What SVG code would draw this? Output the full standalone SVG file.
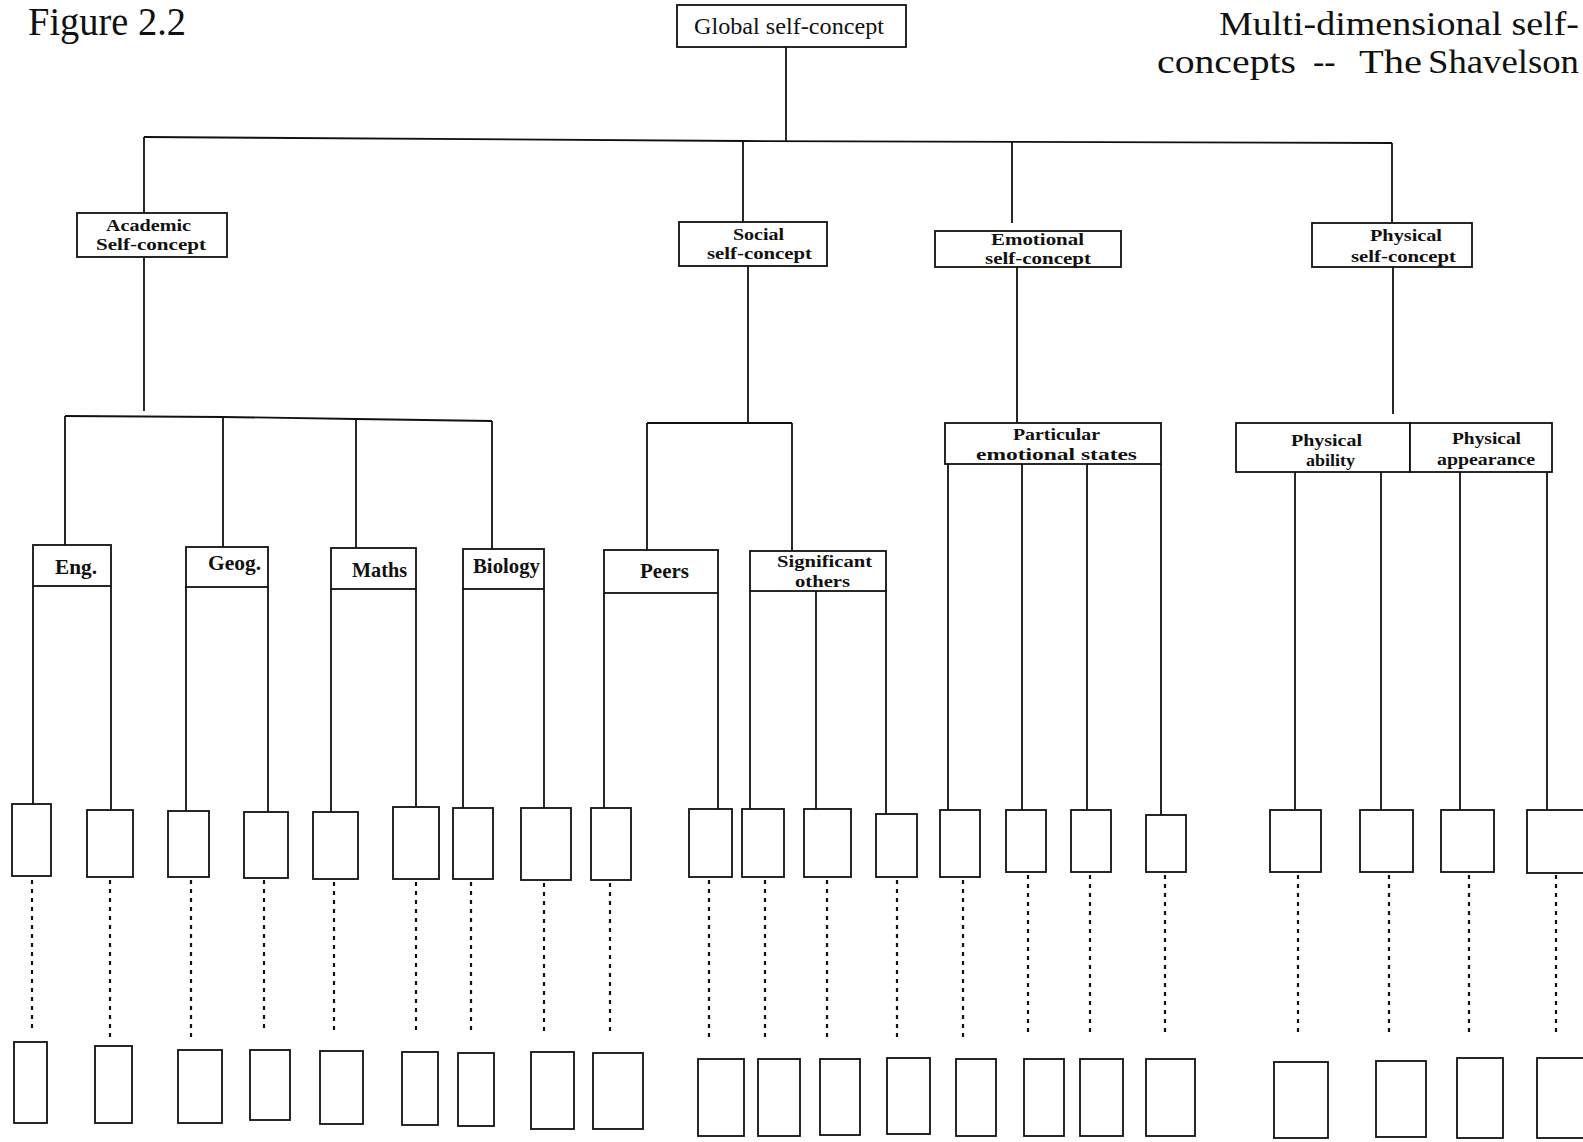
<svg xmlns="http://www.w3.org/2000/svg" width="1583" height="1142" viewBox="0 0 1583 1142">
<style>
.bx{fill:#fff;stroke:#111;stroke-width:1.8}
.ln{fill:none;stroke:#111;stroke-width:1.8}
.dt{fill:none;stroke:#111;stroke-width:2.2;stroke-dasharray:4 5}
.t{font-family:"Liberation Serif","Times New Roman",serif;fill:#111}
.lb{font-family:"Liberation Serif","Times New Roman",serif;font-weight:bold;fill:#111;font-size:17px}
.hd{font-family:"Liberation Serif","Times New Roman",serif;font-weight:bold;fill:#111;font-size:22px}
</style>
<rect width="1583" height="1142" fill="#fff"/>
<text class="t" x="28" y="35" font-size="40" textLength="158" lengthAdjust="spacingAndGlyphs">Figure 2.2</text>
<text class="t" x="1219" y="35" font-size="34" textLength="360" lengthAdjust="spacingAndGlyphs">Multi-dimensional self-</text>
<text class="t" y="73" font-size="34"><tspan x="1157" textLength="139" lengthAdjust="spacingAndGlyphs">concepts</tspan><tspan x="1313">--</tspan><tspan x="1359" textLength="63" lengthAdjust="spacingAndGlyphs">The</tspan><tspan x="1428" textLength="151" lengthAdjust="spacingAndGlyphs">Shavelson</tspan></text>

<g id="connectors">
<line class="ln" x1="786" y1="47" x2="786" y2="141"/>
<polyline class="ln" points="144,137 743,141 1392,143"/>
<line class="ln" x1="144" y1="137" x2="144" y2="213"/>
<line class="ln" x1="743" y1="141" x2="743" y2="222"/>
<line class="ln" x1="1012" y1="142" x2="1012" y2="223"/>
<line class="ln" x1="1392" y1="143" x2="1392" y2="223"/>
<line class="ln" x1="144" y1="257" x2="144" y2="411"/>
<polyline class="ln" points="65,416 223,417 356,419 492,421"/>
<line class="ln" x1="65" y1="416" x2="65" y2="545"/>
<line class="ln" x1="223" y1="417" x2="223" y2="547"/>
<line class="ln" x1="356" y1="419" x2="356" y2="548"/>
<line class="ln" x1="492" y1="421" x2="492" y2="549"/>
<line class="ln" x1="748" y1="266" x2="748" y2="423"/>
<line class="ln" x1="647" y1="423" x2="792" y2="423"/>
<line class="ln" x1="647" y1="423" x2="647" y2="550"/>
<line class="ln" x1="792" y1="423" x2="792" y2="551"/>
<line class="ln" x1="1017" y1="267" x2="1017" y2="423"/>
<line class="ln" x1="1393" y1="267" x2="1393" y2="414"/>
<line class="ln" x1="33" y1="586" x2="33" y2="804"/>
<line class="ln" x1="111" y1="586" x2="111" y2="810"/>
<line class="ln" x1="186" y1="587" x2="186" y2="811"/>
<line class="ln" x1="268" y1="587" x2="268" y2="812"/>
<line class="ln" x1="331" y1="589" x2="331" y2="812"/>
<line class="ln" x1="416" y1="589" x2="416" y2="807"/>
<line class="ln" x1="463" y1="589" x2="463" y2="808"/>
<line class="ln" x1="544" y1="589" x2="544" y2="808"/>
<line class="ln" x1="604" y1="593" x2="604" y2="808"/>
<line class="ln" x1="718" y1="593" x2="718" y2="809"/>
<line class="ln" x1="750" y1="591" x2="750" y2="809"/>
<line class="ln" x1="816" y1="591" x2="816" y2="809"/>
<line class="ln" x1="886" y1="591" x2="886" y2="814"/>
<line class="ln" x1="948" y1="464" x2="948" y2="810"/>
<line class="ln" x1="1022" y1="464" x2="1022" y2="810"/>
<line class="ln" x1="1087" y1="464" x2="1087" y2="810"/>
<line class="ln" x1="1161" y1="464" x2="1161" y2="815"/>
<line class="ln" x1="1295" y1="472" x2="1295" y2="810"/>
<line class="ln" x1="1381" y1="472" x2="1381" y2="810"/>
<line class="ln" x1="1460" y1="472" x2="1460" y2="810"/>
<line class="ln" x1="1547" y1="472" x2="1547" y2="810"/>
<line class="dt" x1="32" y1="880" x2="32" y2="1030"/>
<line class="dt" x1="110" y1="880" x2="110" y2="1042"/>
<line class="dt" x1="191" y1="880" x2="191" y2="1037"/>
<line class="dt" x1="264" y1="880" x2="264" y2="1032"/>
<line class="dt" x1="334" y1="882" x2="334" y2="1032"/>
<line class="dt" x1="416" y1="882" x2="416" y2="1032"/>
<line class="dt" x1="471" y1="882" x2="471" y2="1033"/>
<line class="dt" x1="544" y1="883" x2="544" y2="1033"/>
<line class="dt" x1="610" y1="883" x2="610" y2="1033"/>
<line class="dt" x1="709" y1="880" x2="709" y2="1040"/>
<line class="dt" x1="765" y1="880" x2="765" y2="1040"/>
<line class="dt" x1="827" y1="880" x2="827" y2="1040"/>
<line class="dt" x1="897" y1="880" x2="897" y2="1040"/>
<line class="dt" x1="963" y1="880" x2="963" y2="1040"/>
<line class="dt" x1="1028" y1="875" x2="1028" y2="1035"/>
<line class="dt" x1="1090" y1="875" x2="1090" y2="1035"/>
<line class="dt" x1="1165" y1="875" x2="1165" y2="1035"/>
<line class="dt" x1="1298" y1="875" x2="1298" y2="1035"/>
<line class="dt" x1="1389" y1="875" x2="1389" y2="1035"/>
<line class="dt" x1="1469" y1="875" x2="1469" y2="1035"/>
<line class="dt" x1="1556" y1="875" x2="1556" y2="1035"/>
</g>

<g id="global"><rect class="bx" x="677" y="5" width="229" height="42"/><text class="t" x="694" y="34" font-size="24" textLength="190" lengthAdjust="spacingAndGlyphs">Global self-concept</text></g>

<g id="academic"><rect class="bx" x="77" y="213" width="150" height="44"/><text class="lb" x="106" y="231" textLength="85" lengthAdjust="spacingAndGlyphs">Academic</text><text class="lb" x="96" y="250" textLength="110" lengthAdjust="spacingAndGlyphs">Self-concept</text></g>
<g id="social"><rect class="bx" x="679" y="222" width="148" height="44"/><text class="lb" x="733" y="240" textLength="51" lengthAdjust="spacingAndGlyphs">Social</text><text class="lb" x="707" y="259" textLength="105" lengthAdjust="spacingAndGlyphs">self-concept</text></g>
<g id="emotional"><rect class="bx" x="935" y="231" width="186" height="36"/><text class="lb" x="991" y="245" textLength="93" lengthAdjust="spacingAndGlyphs">Emotional</text><text class="lb" x="985" y="264" textLength="106" lengthAdjust="spacingAndGlyphs">self-concept</text></g>
<g id="physical"><rect class="bx" x="1312" y="223" width="160" height="44"/><text class="lb" x="1370" y="241" textLength="72" lengthAdjust="spacingAndGlyphs">Physical</text><text class="lb" x="1351" y="262" textLength="105" lengthAdjust="spacingAndGlyphs">self-concept</text></g>

<g id="eng"><rect class="bx" x="33" y="545" width="78" height="41"/><text class="hd" x="55" y="574" textLength="42" lengthAdjust="spacingAndGlyphs">Eng.</text></g>
<g id="geog"><rect class="bx" x="186" y="547" width="82" height="40"/><text class="hd" x="208" y="570" textLength="53" lengthAdjust="spacingAndGlyphs">Geog.</text></g>
<g id="maths"><rect class="bx" x="331" y="548" width="85" height="41"/><text class="hd" x="352" y="577" textLength="55" lengthAdjust="spacingAndGlyphs">Maths</text></g>
<g id="biology"><rect class="bx" x="463" y="549" width="81" height="40"/><text class="hd" x="473" y="573" textLength="67" lengthAdjust="spacingAndGlyphs">Biology</text></g>
<g id="peers"><rect class="bx" x="604" y="550" width="114" height="43"/><text class="hd" x="640" y="578" textLength="49" lengthAdjust="spacingAndGlyphs">Peers</text></g>
<g id="significant"><rect class="bx" x="750" y="551" width="136" height="40"/><text class="lb" x="777" y="567" textLength="95" lengthAdjust="spacingAndGlyphs">Significant</text><text class="lb" x="795" y="587" textLength="55" lengthAdjust="spacingAndGlyphs">others</text></g>
<g id="particular"><rect class="bx" x="945" y="423" width="216" height="41"/><text class="lb" x="1013" y="440" textLength="87" lengthAdjust="spacingAndGlyphs">Particular</text><text class="lb" x="976" y="460" textLength="161" lengthAdjust="spacingAndGlyphs">emotional states</text></g>
<g id="phys-ability"><rect class="bx" x="1236" y="423" width="174" height="49"/><text class="lb" x="1291" y="446" textLength="71" lengthAdjust="spacingAndGlyphs">Physical</text><text class="lb" x="1306" y="466" textLength="49" lengthAdjust="spacingAndGlyphs">ability</text></g>
<g id="phys-appearance"><rect class="bx" x="1410" y="423" width="142" height="49"/><text class="lb" x="1452" y="444" textLength="69" lengthAdjust="spacingAndGlyphs">Physical</text><text class="lb" x="1437" y="465" textLength="98" lengthAdjust="spacingAndGlyphs">appearance</text></g>

<g id="row1">
<rect class="bx" x="12" y="804" width="39" height="72"/>
<rect class="bx" x="87" y="810" width="46" height="67"/>
<rect class="bx" x="168" y="811" width="41" height="66"/>
<rect class="bx" x="244" y="812" width="44" height="66"/>
<rect class="bx" x="313" y="812" width="45" height="67"/>
<rect class="bx" x="393" y="807" width="46" height="72"/>
<rect class="bx" x="453" y="808" width="40" height="71"/>
<rect class="bx" x="521" y="808" width="50" height="72"/>
<rect class="bx" x="591" y="808" width="40" height="72"/>
<rect class="bx" x="689" y="809" width="43" height="68"/>
<rect class="bx" x="742" y="809" width="42" height="68"/>
<rect class="bx" x="804" y="809" width="47" height="68"/>
<rect class="bx" x="876" y="814" width="41" height="63"/>
<rect class="bx" x="940" y="810" width="40" height="67"/>
<rect class="bx" x="1006" y="810" width="40" height="62"/>
<rect class="bx" x="1071" y="810" width="40" height="62"/>
<rect class="bx" x="1146" y="815" width="40" height="57"/>
<rect class="bx" x="1270" y="810" width="51" height="62"/>
<rect class="bx" x="1360" y="810" width="53" height="62"/>
<rect class="bx" x="1441" y="810" width="53" height="62"/>
<rect class="bx" x="1527" y="810" width="58" height="63"/>
</g>

<g id="row2">
<rect class="bx" x="14" y="1042" width="33" height="81"/>
<rect class="bx" x="95" y="1046" width="37" height="77"/>
<rect class="bx" x="178" y="1050" width="44" height="73"/>
<rect class="bx" x="250" y="1050" width="40" height="70"/>
<rect class="bx" x="320" y="1051" width="43" height="73"/>
<rect class="bx" x="402" y="1052" width="36" height="73"/>
<rect class="bx" x="458" y="1053" width="36" height="73"/>
<rect class="bx" x="531" y="1052" width="43" height="77"/>
<rect class="bx" x="593" y="1053" width="50" height="76"/>
<rect class="bx" x="698" y="1059" width="46" height="77"/>
<rect class="bx" x="758" y="1059" width="42" height="77"/>
<rect class="bx" x="820" y="1059" width="40" height="76"/>
<rect class="bx" x="887" y="1058" width="43" height="76"/>
<rect class="bx" x="956" y="1059" width="40" height="77"/>
<rect class="bx" x="1024" y="1059" width="40" height="77"/>
<rect class="bx" x="1080" y="1059" width="43" height="77"/>
<rect class="bx" x="1146" y="1059" width="49" height="77"/>
<rect class="bx" x="1274" y="1062" width="54" height="76"/>
<rect class="bx" x="1376" y="1061" width="50" height="76"/>
<rect class="bx" x="1457" y="1058" width="46" height="80"/>
<rect class="bx" x="1537" y="1058" width="50" height="80"/>
</g>
</svg>
